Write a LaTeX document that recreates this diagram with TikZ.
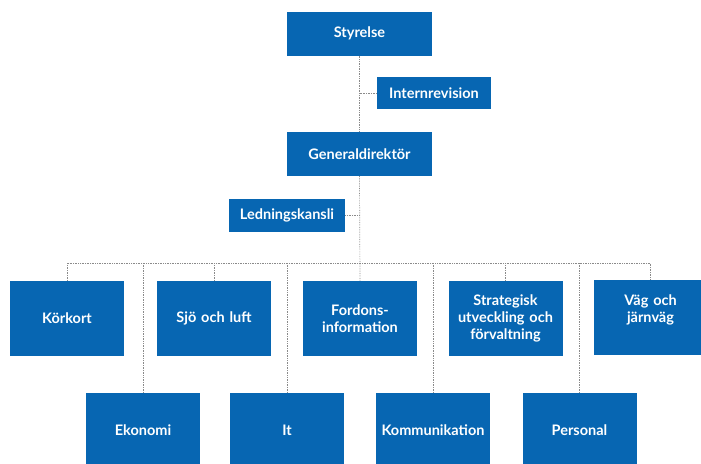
\documentclass[tikz,border=0pt]{standalone}
\usepackage{fontspec}
\setmainfont{Lato}
\definecolor{orgblue}{HTML}{0766B2}
\definecolor{conn}{HTML}{8A8A8A}
\tikzset{
  box/.style={fill=orgblue, draw=none, text=white, font=\bfseries\fontsize{14.5}{17}\selectfont, align=center, inner sep=2pt},
  topbox/.style={box, minimum width=145pt, minimum height=44pt},
  midbox/.style={box, minimum width=115pt, minimum height=33pt},
  unitbox/.style={box, minimum width=114pt, minimum height=75pt, text width=110pt},
  conn/.style={draw=conn, densely dotted, line width=0.7pt}
}
\begin{document}
\begin{tikzpicture}[x=1pt,y=-1pt]
\useasboundingbox (0,0) rectangle (701,463);
\clip (0,0) rectangle (701,463);
\node[topbox] (sty) at (359.5,33.5) {Styrelse};
\node[midbox, minimum width=114pt, minimum height=32pt] (int) at (434,93) {Internrevision};
\node[topbox] (gd) at (359.5,154) {Generaldirektör};
\node[midbox, minimum width=116pt] (led) at (287,215.5) {Ledningskansli};
% top row
\node[unitbox] (kor) at (67,318.5) {Körkort};
\node[unitbox] (sjo) at (214,318.5) {Sjö och luft};
\node[unitbox] (ford) at (360,318.5) {Fordons-\\information};
\node[unitbox] (strat) at (505.5,318.5) {Strategisk\\utveckling och\\förvaltning};
\node[unitbox] (vag) at (650.5,317.5) {Väg och\\järnväg\\\mbox{}};
% bottom row
\node[unitbox] (eko) at (143,430.5) {Ekonomi};
\node[unitbox] (it) at (287,430.5) {It};
\node[unitbox] (kom) at (433,430.5) {Kommunikation};
\node[unitbox] (pers) at (579.5,430.5) {Personal};
\coordinate (bus) at (360,263);
% connectors
\draw[conn] (sty.south) -- (gd.north);
\draw[conn] (int.west) -- (int.west -| sty.south);
\draw[conn] (gd.south) -- (ford.north);
\draw[conn] (led.east) -- (led.east -| gd.south);
\draw[conn] (kor.north) -- (kor.north |- bus) -- (vag.north |- bus) -- (vag.north);
\draw[conn] (sjo.north) -- (sjo.north |- bus);
\draw[conn] (strat.north) -- (strat.north |- bus);
\draw[conn] (eko.north) -- (eko.north |- bus);
\draw[conn] (it.north) -- (it.north |- bus);
\draw[conn] (kom.north) -- (kom.north |- bus);
\draw[conn] (pers.north) -- (pers.north |- bus);
\end{tikzpicture}
\end{document}
